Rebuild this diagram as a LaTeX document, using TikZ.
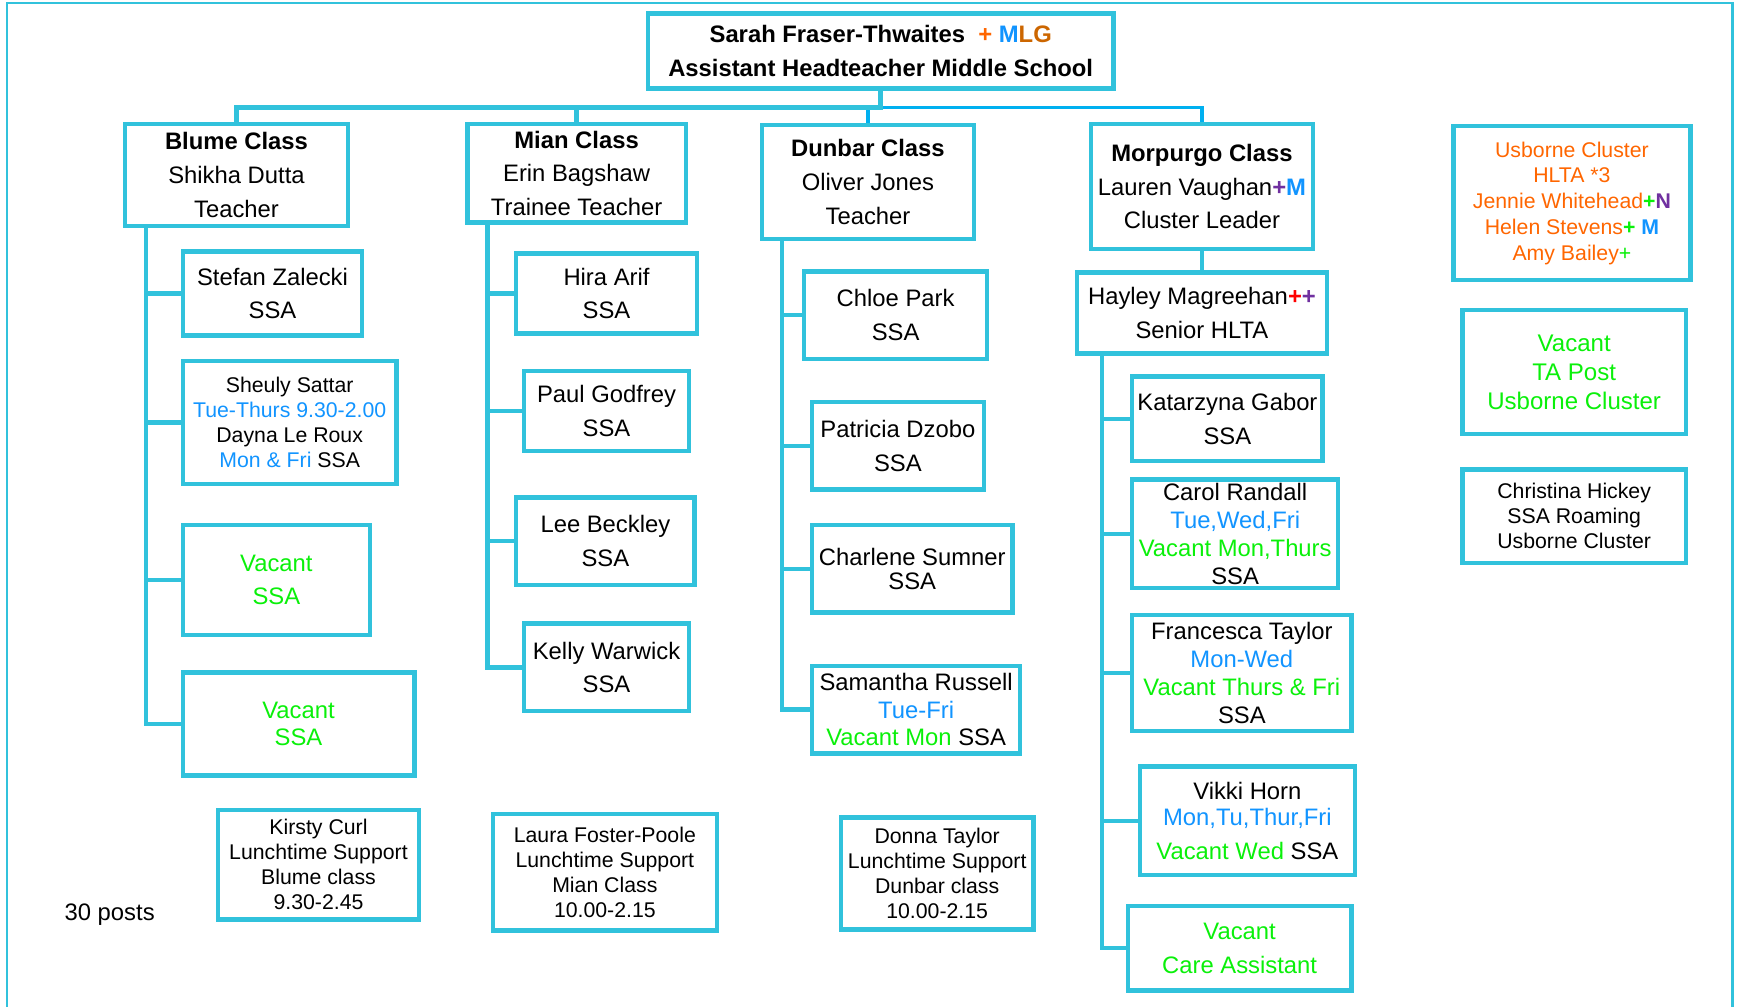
\documentclass[tikz,border=0pt]{standalone}
\usepackage{fontspec}
\setmainfont{Liberation Sans}
\definecolor{boxcyan}{RGB}{49,194,220}
\definecolor{busblue}{RGB}{0,176,240}
\definecolor{dayblue}{RGB}{17,148,255}
\definecolor{vacgreen}{RGB}{10,240,10}
\definecolor{hltaorange}{RGB}{255,102,0}
\definecolor{lgbrown}{RGB}{204,102,0}
\definecolor{plusviolet}{RGB}{112,48,160}
\definecolor{plusred}{RGB}{255,0,0}
\newcommand{\days}[1]{\textcolor{dayblue}{#1}}
\newcommand{\vac}[1]{\textcolor{vacgreen}{#1}}
\begin{document}
\begin{tikzpicture}[x=1pt, y=-1pt,
    post/.style={draw=boxcyan, line width=4pt, fill=white, align=center, inner sep=0pt},
    big/.style={font=\fontsize{21.5}{30.5}\selectfont},
    mid/.style={font=\fontsize{21.5}{25}\selectfont},
    small/.style={font=\fontsize{19.2}{22.5}\selectfont},
    link/.style={boxcyan, line width=4pt},
    buslink/.style={busblue, line width=3pt}]
    \useasboundingbox (0, 0) rectangle (1568, 909);
    \draw[boxcyan, line width=2pt] (6, 909) -- (6, 3) -- (1564, 3) -- (1564, 909);

    \node[post, big, minimum width=420, minimum height=68] (head) at (795, 46) {\textbf{Sarah Fraser-Thwaites \ \textcolor{hltaorange}{+} \textcolor{dayblue}{M}\textcolor{lgbrown}{LG}}\\ \textbf{Assistant Headteacher Middle School}};

    \node[post, big, minimum width=201, minimum height=92] (blume) at (213.5, 158) {\textbf{Blume Class}\\ Shikha Dutta\\ Teacher};
    \node[post, big, minimum width=197, minimum height=89] (mian) at (520.5, 156.5) {\textbf{Mian Class}\\ Erin Bagshaw\\ Trainee Teacher};
    \node[post, big, minimum width=191, minimum height=103] (dunbar) at (783.5, 164.5) {\textbf{Dunbar Class}\\ Oliver Jones\\ Teacher};
    \node[post, big, minimum width=200, minimum height=113] (morpurgo) at (1085, 168.5) {\textbf{Morpurgo Class}\\ Lauren Vaughan\textcolor{plusviolet}{\textbf{+}}\textcolor{dayblue}{\textbf{M}}\\ Cluster Leader};
    \node[post, big, minimum width=226, minimum height=73] (hayley) at (1085, 282.5) {Hayley Magreehan\textcolor{plusred}{\textbf{+}}\textcolor{plusviolet}{\textbf{+}}\\ Senior HLTA};

    \node[post, big, minimum width=162, minimum height=76] (stefan) at (246, 265) {Stefan Zalecki\\ SSA};
    \node[post, small, minimum width=193, minimum height=111] (sheuly) at (261.5, 381.5) {Sheuly Sattar\\ \days{Tue-Thurs 9.30-2.00}\\ Dayna Le Roux\\ \days{Mon \& Fri} SSA};
    \node[post, big, minimum width=169, minimum height=99] (vacblume1) at (249.5, 523.5) {\vac{Vacant}\\ \vac{SSA}};
    \node[post, mid, minimum width=209, minimum height=93] (vacblume2) at (269.5, 653.5) {\vac{Vacant}\\ \vac{SSA}};
    \node[post, small, minimum width=181, minimum height=99] (kirsty) at (287.5, 780.5) {Kirsty Curl\\ Lunchtime Support\\ Blume class\\ 9.30-2.45};

    \node[post, big, minimum width=163, minimum height=72] (hira) at (547.5, 265) {Hira Arif\\ SSA};
    \node[post, big, minimum width=149, minimum height=72] (paul) at (547.5, 371) {Paul Godfrey\\ SSA};
    \node[post, big, minimum width=161, minimum height=79] (lee) at (546.5, 488.5) {Lee Beckley\\ SSA};
    \node[post, big, minimum width=149, minimum height=79] (kelly) at (547.5, 602.5) {Kelly Warwick\\ SSA};
    \node[post, small, minimum width=202, minimum height=105] (laura) at (546, 787.5) {Laura Foster-Poole\\ Lunchtime Support\\ Mian Class\\ 10.00-2.15};

    \node[post, big, minimum width=165, minimum height=79] (chloe) at (808.5, 284.5) {Chloe Park\\ SSA};
    \node[post, big, minimum width=155, minimum height=79] (patricia) at (810.5, 402.5) {Patricia Dzobo\\ SSA};
    \node[post, font=\fontsize{21.5}{22}\selectfont, minimum width=181, minimum height=79] (charlene) at (823.5, 513.5) {Charlene Sumner\\ SSA};
    \node[post, mid, minimum width=188, minimum height=79] (samantha) at (827, 640.5) {Samantha Russell\\ \days{Tue-Fri}\\ \vac{Vacant Mon} SSA};
    \node[post, small, minimum width=174, minimum height=101] (donna) at (846, 788.5) {Donna Taylor\\ Lunchtime Support\\ Dunbar class\\ 10.00-2.15};

    \node[post, big, minimum width=172, minimum height=76] (katarzyna) at (1108, 378) {Katarzyna Gabor\\ SSA};
    \node[post, mid, minimum width=186, minimum height=98] (carol) at (1115, 482) {Carol Randall\\ \days{Tue,Wed,Fri}\\ \vac{Vacant Mon,Thurs}\\ SSA};
    \node[post, mid, minimum width=198, minimum height=105] (francesca) at (1121, 607.5) {Francesca Taylor\\ \days{Mon-Wed}\\ \vac{Vacant Thurs \& Fri}\\ SSA};
    \node[post, font=\fontsize{21.5}{23.5}\selectfont, minimum width=194, minimum height=98] (vikki) at (1126, 741) {Vikki Horn\\ \days{Mon,Tu,Thur,Fri}\\[7pt] \vac{Vacant Wed} SSA};
    \node[post, big, minimum width=202, minimum height=76] (vaccare) at (1119, 856) {\vac{Vacant}\\ \vac{Care Assistant}};

    \node[post, font=\fontsize{19.2}{23.3}\selectfont, text=hltaorange, minimum width=214, minimum height=139] (usborne) at (1419, 183.5) {Usborne Cluster\\ HLTA *3\\ Jennie Whitehead\vac{\textbf{+}}\textcolor{plusviolet}{\textbf{N}}\\ Helen Stevens\vac{\textbf{+}} \days{\textbf{M}}\\ Amy Bailey\vac{+}};
    \node[post, font=\fontsize{21.7}{26}\selectfont, minimum width=202, minimum height=112] (vacta) at (1421, 336) {\vac{Vacant}\\ \vac{TA Post}\\ \vac{Usborne Cluster}};
    \node[post, small, minimum width=202, minimum height=84] (christina) at (1421, 466) {Christina Hickey\\ SSA Roaming\\ Usborne Cluster};

    \node[big] (total) at (99, 826) {30 posts};

    \coordinate (bus) at (795, 97);
    \coordinate (blumetrunk) at ([xshift=21pt]blume.south west);
    \coordinate (miantrunk) at ([xshift=20pt]mian.south west);
    \coordinate (dunbartrunk) at ([xshift=20pt]dunbar.south west);
    \coordinate (hayleytrunk) at ([xshift=25pt]hayley.south west);

    \draw[buslink] (bus) -| (morpurgo.north);
    \draw[buslink] (dunbar.north) -- (dunbar.north |- bus);
    \draw[link] (head.south) -- (bus) -| (blume.north);
    \draw[link] (bus) -| (mian.north);
    \draw[link] (morpurgo.south) -- (hayley.north);

    \draw[link] (blumetrunk) |- (stefan.west);
    \draw[link] (blumetrunk) |- (sheuly.west);
    \draw[link] (blumetrunk) |- (vacblume1.west);
    \draw[link] (blumetrunk) |- (vacblume2.west);

    \draw[link] (miantrunk) |- (hira.west);
    \draw[link] (miantrunk) |- (paul.west);
    \draw[link] (miantrunk) |- (lee.west);
    \draw[link] (miantrunk) |- (kelly.west);

    \draw[link] (dunbartrunk) |- (chloe.west);
    \draw[link] (dunbartrunk) |- (patricia.west);
    \draw[link] (dunbartrunk) |- (charlene.west);
    \draw[link] (dunbartrunk) |- (samantha.west);

    \draw[link] (hayleytrunk) |- (katarzyna.west);
    \draw[link] (hayleytrunk) |- (carol.west);
    \draw[link] (hayleytrunk) |- (francesca.west);
    \draw[link] (hayleytrunk) |- (vikki.west);
    \draw[link] (hayleytrunk) |- (vaccare.west);
\end{tikzpicture}
\end{document}
